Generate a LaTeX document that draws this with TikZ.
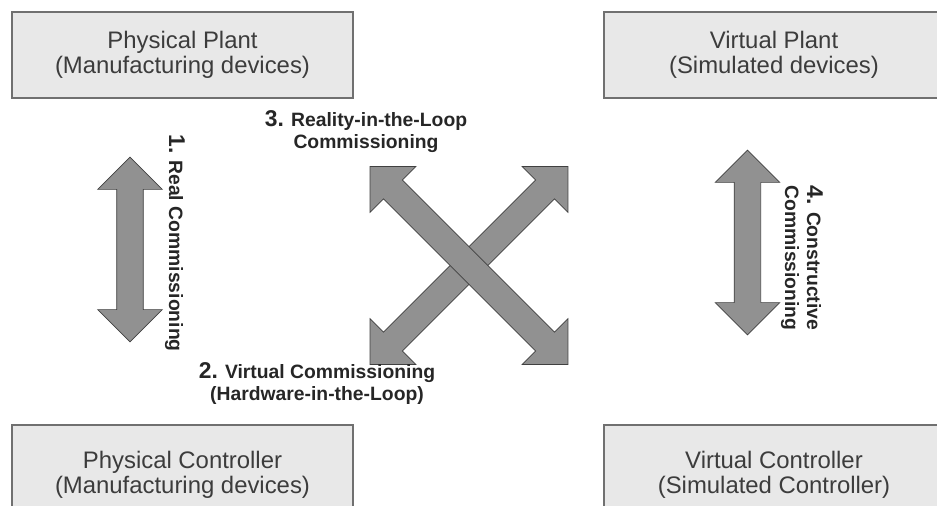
\documentclass[tikz,border=0pt]{standalone}
\usepackage{fontspec}
\setmainfont{Liberation Sans}
\usetikzlibrary{shapes.arrows}
\definecolor{boxfill}{RGB}{232,232,232}
\definecolor{boxline}{RGB}{112,112,112}
\definecolor{arrowfill}{RGB}{145,145,145}
\definecolor{textgray}{RGB}{60,60,60}
\newcommand{\numfont}{\fontsize{13}{13}\selectfont}

\begin{document}
\begin{tikzpicture}[x=0.02cm,y=-0.02cm]
    \tikzstyle{block}=[draw=boxline,line width=1.1pt,fill=boxfill,minimum width=6.82cm,minimum height=1.72cm,align=center,text=textgray,font=\fontsize{13.6}{14.2}\selectfont]
    \tikzstyle{bigarrow}=[double arrow,draw=black!75,fill=arrowfill,inner sep=0.26cm,double arrow tip angle=90,double arrow head extend=0.38cm,double arrow head indent=0pt]
    \tikzstyle{modetext}=[align=center,text=black!85,font=\bfseries\fontsize{11}{12.5}\selectfont]
    \clip (0,0) rectangle (937,506);

    \node (pplant) at (182.5,55) [block] {Physical Plant\\(Manufacturing devices)};
    \node (vplant) at (774,55) [block] {Virtual Plant\\(Simulated devices)};
    \node (pctrl) at (182.5,475) [block,minimum height=2cm] {Physical Controller\\(Manufacturing devices)};
    \node (vctrl) at (774,475) [block,minimum height=2cm] {Virtual Controller\\(Simulated Controller)};

    \node (real) at (130,249.5) [bigarrow,rotate=90,minimum height=3.7cm] {};
    \node (constr) at (747.5,242.5) [bigarrow,rotate=90,minimum height=3.7cm] {};
    \node (hil) at (469,265.5) [bigarrow,rotate=45,minimum height=5.6cm] {};
    \node (ril) at (469,265.5) [bigarrow,rotate=-45,minimum height=5.6cm] {};

    \node (l1) at (175,243) [modetext,rotate=-90] {{\numfont 1.} Real Commissioning};
    \node (l2) at (317,384) [modetext] {{\numfont 2.} Virtual Commissioning\\(Hardware-in-the-Loop)};
    \node (l3) at (366,132) [modetext] {{\numfont 3.} Reality-in-the-Loop\\Commissioning};
    \node (l4) at (802,258) [modetext,rotate=-90] {{\numfont 4.} Constructive\\Commissioning};
\end{tikzpicture}
\end{document}
